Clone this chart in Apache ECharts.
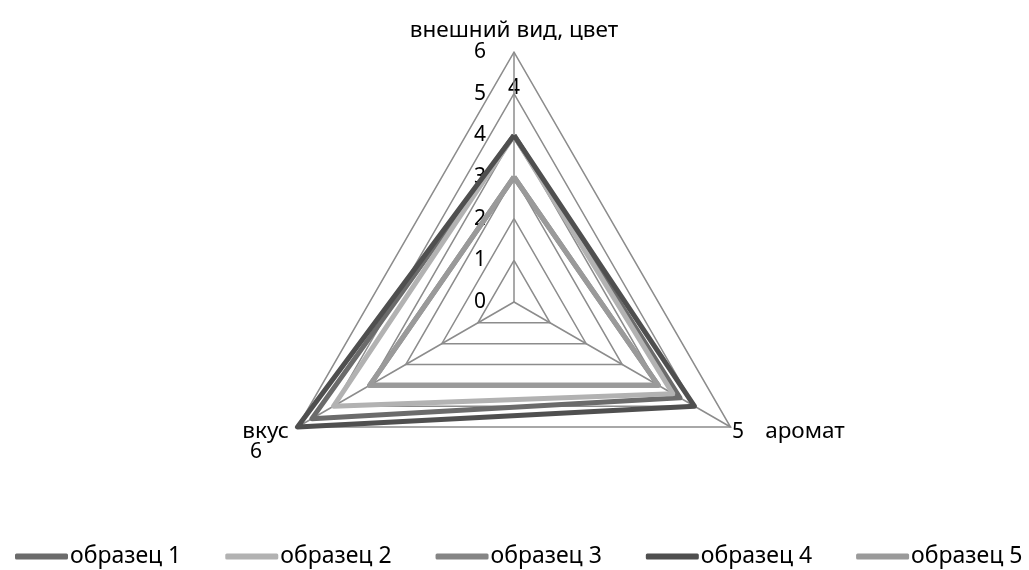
<!DOCTYPE html>
<html>
<head>
<meta charset="utf-8">
<script src="https://cdn.jsdelivr.net/npm/echarts@6/dist/echarts.min.js"></script>
<style>
  html, body { margin: 0; padding: 0; background: #fff; }
  #chart { width: 1029px; height: 570px; }
</style>
</head>
<body>
<div id="chart"></div>
<script>
// показатели (порядок для ECharts: против часовой стрелки)
let indicatorNames = ["внешний вид, цвет", "вкус", "аромат"];
let seriesNames = ["образец 1", "образец 2", "образец 3", "образец 4", "образец 5"];
let sample1 = [4, 5.6, 4.6];
let sample2 = [4, 5, 4.4];
let sample3 = [3, 4, 4];
let sample4 = [4, 6, 5];
let sample5 = [3, 4, 4];
let seriesColors = ["#6b6b6b", "#b2b2b2", "#858585", "#4f4f4f", "#9a9a9a"];
let axisMax = 6;
// отдельные подписи данных (образец 4)
let extraLabels = ["4", "5", "6"];

var myChart = echarts.init(document.getElementById("chart"));
var font = "Noto Sans";
var allData = [sample1, sample2, sample3, sample4, sample5];

option = {
    animation: false,
    textStyle: { fontFamily: font },
    legend: {
        top: 540,
        left: 10,
        itemWidth: 53,
        itemHeight: 6,
        itemGap: 44,
        icon: "roundRect",
        textStyle: { fontSize: 23, color: "#000", padding: [0, 0, 0, -3] },
        data: seriesNames
    },
    radar: {
        center: [514, 302],
        radius: 250,
        startAngle: 90,
        shape: "polygon",
        splitNumber: 6,
        indicator: indicatorNames.map(function (n, i) {
            var ind = { name: n, min: 0, max: axisMax };
            if (i == 0) {
                ind.axisLabel = { show: true };
            }
            return ind;
        }),
        axisName: {
            color: "#000",
            fontSize: 22.5,
            fontFamily: font,
            formatter: function (name) {
                return name == "аромат" ? "{g|}" + name : name;
            },
            rich: { g: { width: 26 } }
        },
        nameGap: 10,
        axisLine: { lineStyle: { color: "#8c8c8c", width: 1.5 } },
        splitLine: { lineStyle: { color: "#8c8c8c", width: 1.5 } },
        splitArea: { show: false },
        axisLabel: { show: false, color: "#000", fontSize: 21, margin: 28, padding: [6, 0, 0, 0] }
    },
    series: [{
        type: "radar",
        symbol: "none",
        data: allData.map(function (d, i) {
            return {
                name: seriesNames[i],
                value: d,
                lineStyle: { color: seriesColors[i], width: 5 },
                itemStyle: { color: seriesColors[i] }
            };
        })
    }],
    graphic: [
        { type: "text", x: 514, y: 88, style: { text: extraLabels[0], fontSize: 21, fontFamily: font, fill: "#000", align: "center", verticalAlign: "middle" } },
        { type: "text", x: 738, y: 432, style: { text: extraLabels[1], fontSize: 21, fontFamily: font, fill: "#000", align: "center", verticalAlign: "middle" } },
        { type: "text", x: 256, y: 452, style: { text: extraLabels[2], fontSize: 21, fontFamily: font, fill: "#000", align: "center", verticalAlign: "middle" } }
    ]
};
myChart.setOption(option);
</script>
</body>
</html>
